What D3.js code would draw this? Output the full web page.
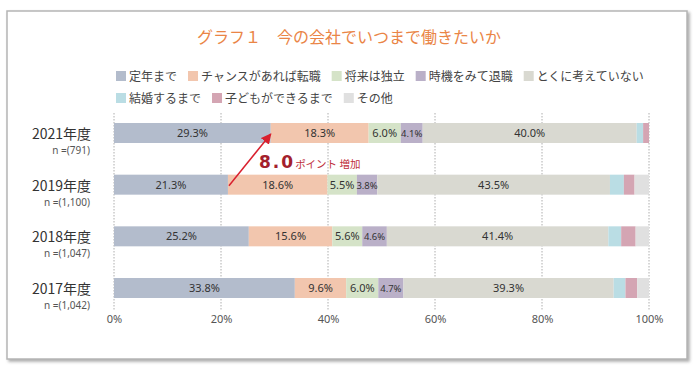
<!DOCTYPE html>
<html>
<head>
<meta charset="utf-8">
<script src="https://cdn.jsdelivr.net/npm/d3@7"></script>
<style>
  body { margin: 0; background: #fff; }
  svg { font-family: "Noto Sans CJK JP", "Noto Sans", sans-serif; }
</style>
</head>
<body>
<div id="chart"></div>
<script>
// data
const years = ['2021年度', '2019年度', '2018年度', '2017年度'];
const nLabels = ['n =(791)', 'n =(1,100)', 'n =(1,047)', 'n =(1,042)'];
const seriesNames = ['定年まで', 'チャンスがあれば転職', '将来は独立', '時機をみて退職',
    'とくに考えていない', '結婚するまで', '子どもができるまで', 'その他'];
const seriesColors = ['#b3bccc', '#f2c6ae', '#d5e3c8', '#bab0c8', '#d9d9d1', '#badde4', '#d4a5b3', '#e0e0e0'];
const teinen = [29.3, 21.3, 25.2, 33.8];
const tenshoku = [18.3, 18.6, 15.6, 9.6];
const dokuritsu = [6.0, 5.5, 5.6, 6.0];
const taishoku = [4.1, 3.8, 4.6, 4.7];
const kangaete = [40.0, 43.5, 41.4, 39.3];
const kekkon = [1.2, 2.6, 2.4, 2.2];
const kodomo = [1.1, 2.0, 2.7, 2.2];
const sonota = [0.0, 2.7, 2.5, 2.2];
const xTicks = [0, 20, 40, 60, 80, 100];
const labeledSeries = 5;

const series = [teinen, tenshoku, dokuritsu, taishoku, kangaete, kekkon, kodomo, sonota];

const width = 700;
const height = 373;

const svg = d3.select('#chart')
    .append('svg')
    .attr('width', width)
    .attr('height', height);

// frame with shadow
const defs = svg.append('defs');
defs.append('filter')
    .attr('id', 'shadow')
    .attr('x', '-5%').attr('y', '-5%').attr('width', '110%').attr('height', '110%')
    .append('feDropShadow')
    .attr('dx', 2).attr('dy', 2).attr('stdDeviation', 1.5)
    .attr('flood-color', '#888').attr('flood-opacity', 0.7);

defs.append('marker')
    .attr('id', 'arrow')
    .attr('viewBox', '0 0 10 10')
    .attr('refX', 9).attr('refY', 5)
    .attr('markerWidth', 7).attr('markerHeight', 7)
    .attr('orient', 'auto')
    .append('path')
    .attr('d', 'M0,0 L10,5 L0,10 z')
    .attr('fill', '#d9202e');

svg.append('rect')
    .attr('x', 7).attr('y', 11)
    .attr('width', 680).attr('height', 348)
    .attr('fill', '#fff')
    .attr('stroke', '#b5b5b5')
    .attr('stroke-width', 1.5)
    .attr('filter', 'url(#shadow)');

// title
svg.append('text')
    .attr('x', 349)
    .attr('y', 43)
    .attr('text-anchor', 'middle')
    .attr('font-size', 16)
    .attr('fill', '#ea8546')
    .text('グラフ１　今の会社でいつまで働きたいか');

// legend
const legendRows = [[0, 1, 2, 3, 4], [5, 6, 7]];
legendRows.forEach((row, r) => {
    let lx = 116;
    const ly = 76 + r * 22;
    row.forEach(i => {
        const g = svg.append('g').attr('transform', `translate(${lx},${ly})`);
        g.append('rect')
            .attr('x', 0).attr('y', -5)
            .attr('width', 10).attr('height', 10)
            .attr('fill', seriesColors[i]);
        const t = g.append('text')
            .attr('x', 13).attr('y', 4.5)
            .attr('font-size', 12)
            .attr('fill', '#444')
            .text(seriesNames[i]);
        lx += 13 + t.node().getComputedTextLength() + 11;
    });
});

// scales
const xScale = d3.scaleLinear()
    .domain([0, 100])
    .range([114, 649]);

const yScale = d3.scalePoint()
    .domain(years)
    .range([133, 288]);

const barH = 20;

// grid lines
svg.append('g')
    .selectAll('line')
    .data(xTicks)
    .enter()
    .append('line')
    .attr('x1', d => xScale(d)).attr('x2', d => xScale(d))
    .attr('y1', 113).attr('y2', 311)
    .attr('stroke', '#999')
    .attr('stroke-width', 0.8)
    .attr('stroke-dasharray', '1.5,1.5');

// x axis
const xAxis = svg.append('g')
    .attr('transform', 'translate(0,311)')
    .call(d3.axisBottom(xScale).tickValues(xTicks).tickFormat(d => d + '%').tickSize(0).tickPadding(4));
xAxis.select('.domain').remove();
xAxis.selectAll('text')
    .attr('font-size', 11)
    .attr('fill', '#555')
    .attr('font-family', '"Noto Sans", sans-serif');

// stack
const rows = years.map((y, j) => {
    const obj = { year: y };
    series.forEach((s, i) => obj['s' + i] = s[j]);
    return obj;
});
const keys = series.map((s, i) => 's' + i);
const stacked = d3.stack().keys(keys)(rows);

const layers = svg.append('g')
    .selectAll('g')
    .data(stacked)
    .enter()
    .append('g')
    .attr('fill', (d, i) => seriesColors[i]);

layers.selectAll('rect')
    .data(d => d)
    .enter()
    .append('rect')
    .attr('x', d => xScale(d[0]))
    .attr('y', d => yScale(d.data.year) - barH / 2)
    .attr('width', d => xScale(d[1]) - xScale(d[0]))
    .attr('height', barH);

// value labels
stacked.slice(0, labeledSeries).forEach((layer, i) => {
    svg.append('g')
        .selectAll('text')
        .data(layer)
        .enter()
        .append('text')
        .attr('x', d => xScale((d[0] + d[1]) / 2))
        .attr('y', d => yScale(d.data.year) + 4)
        .attr('text-anchor', 'middle')
        .attr('font-size', i === 3 ? 9.5 : 11)
        .attr('fill', '#333')
        .attr('font-family', '"Noto Sans", sans-serif')
        .text(d => (d[1] - d[0]).toFixed(1) + '%');
});

// year labels
svg.append('g')
    .selectAll('text')
    .data(years)
    .enter()
    .append('text')
    .attr('x', 91)
    .attr('y', d => yScale(d) + 6)
    .attr('text-anchor', 'end')
    .attr('font-size', 14)
    .attr('fill', '#333')
    .text(d => d);

svg.append('g')
    .selectAll('text')
    .data(nLabels)
    .enter()
    .append('text')
    .attr('x', 90)
    .attr('y', (d, i) => yScale(years[i]) + 21)
    .attr('text-anchor', 'end')
    .attr('font-size', 10)
    .attr('fill', '#555')
    .attr('font-family', '"Noto Sans", sans-serif')
    .text(d => d);

// arrow annotation
svg.append('line')
    .attr('x1', xScale(teinen[1]) + 1)
    .attr('y1', yScale(years[1]) + 1)
    .attr('x2', xScale(teinen[0]))
    .attr('y2', yScale(years[0]) + 1)
    .attr('stroke', '#d9202e')
    .attr('stroke-width', 1.5)
    .attr('marker-end', 'url(#arrow)');

const note = svg.append('text')
    .attr('x', 259)
    .attr('y', 168)
    .attr('fill', '#a3202c');
note.append('tspan')
    .attr('font-size', 17)
    .attr('font-weight', 'bold')
    .attr('font-family', '"DejaVu Sans", sans-serif')
    .attr('letter-spacing', 2)
    .text((teinen[0] - teinen[1]).toFixed(1));
note.append('tspan')
    .attr('font-size', 10.5)
    .attr('fill', '#c0303c')
    .attr('dx', 0)
    .text('ポイント 増加');
</script>
</body>
</html>
